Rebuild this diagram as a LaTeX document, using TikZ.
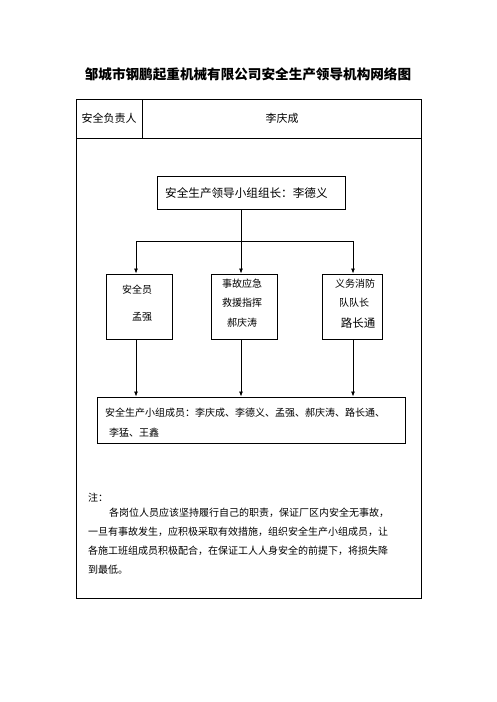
\documentclass[tikz,border=0pt]{standalone}
\usepackage{fontspec}
\setmainfont{Noto Sans CJK SC}
\usetikzlibrary{arrows.meta}
\tikzset{
  boxn/.style={draw=black,line width=0.9pt,rectangle,inner sep=0pt},
  txt/.style={inner sep=0pt,font=\fontsize{10}{12}\selectfont},
  arr/.style={line width=0.8pt,-{Latex[length=5pt,width=4pt]}},
  ln/.style={line width=0.8pt}
}
\begin{document}
\begin{tikzpicture}[x=1pt,y=-1pt]
\useasboundingbox (0,0) rectangle (496,702);
% title
\node[inner sep=0pt,font=\fontsize{13.6}{16}\selectfont\bfseries] (title) at (248,74) {邹城市钢鹏起重机械有限公司安全生产领导机构网络图};
% table frame
\draw[line width=0.9pt] (76,99) rectangle (421,598);
\draw[line width=0.9pt] (76,138) -- (421,138);
\draw[line width=0.9pt] (142,99) -- (142,138);
\node[txt,font=\fontsize{11}{12}\selectfont] (h1) at (109,118) {安全负责人};
\node[txt,font=\fontsize{11}{12}\selectfont] (h2) at (282,118) {李庆成};
% leader
\node[boxn,minimum width=188pt,minimum height=33pt] (lead) at (251,192.5) {};
\node[txt,anchor=west,font=\fontsize{11.6}{13}\selectfont] (leadt) at (165,193) {安全生产领导小组组长：李德义};
% three boxes
\node[boxn,minimum width=66pt,minimum height=65pt] (bl) at (139,306.5) {};
\node[boxn,minimum width=66pt,minimum height=65pt] (bm) at (244,306.5) {};
\node[boxn,minimum width=60pt,minimum height=65pt] (br) at (352,306.5) {};
\node[txt] (bl1) at (137,290) {安全员};
\node[txt] (bl2) at (142,317) {孟强};
\node[txt] (bm1) at (242,284) {事故应急};
\node[txt] (bm2) at (242,303) {救援指挥};
\node[txt] (bm3) at (242,323) {郝庆涛};
\node[txt] (br1) at (355,284) {义务消防};
\node[txt] (br2) at (354,303) {队队长};
\node[txt,font=\fontsize{11.5}{13}\selectfont] (br3) at (358,323) {路长通};
% members
\node[boxn,minimum width=308pt,minimum height=46pt] (mem) at (251,420) {};
\node[txt,anchor=west] (m1) at (105,413) {安全生产小组成员：李庆成、李德义、孟强、郝庆涛、路长通、};
\node[txt,anchor=west] (m2) at (109,433) {李猛、王鑫};
% connectors
\coordinate (hl) at (136,241);
\coordinate (hm) at (241,241);
\coordinate (hr) at (353,241);
\draw[ln] (hl) -- (hr);
\draw[arr] (hm |- lead.south) -- (hm |- bm.north);
\draw[arr] (hl) -- (hl |- bl.north);
\draw[arr] (hr) -- (hr |- br.north);
\draw[arr] (hl |- bl.south) -- (hl |- mem.north);
\draw[arr] (hm |- bm.south) -- (hm |- mem.north);
\draw[arr] (hr |- br.south) -- (hr |- mem.north);
% notes
\node[txt,anchor=west] (n0) at (88,498) {注：};
\node[txt,anchor=west] (n1) at (109,513) {各岗位人员应该坚持履行自己的职责，保证厂区内安全无事故，};
\node[txt,anchor=west] (n2) at (88,532) {一旦有事故发生，应积极采取有效措施，组织安全生产小组成员，让};
\node[txt,anchor=west] (n3) at (88,551) {各施工班组成员积极配合，在保证工人人身安全的前提下，将损失降};
\node[txt,anchor=west] (n4) at (88,570) {到最低。};
\end{tikzpicture}
\end{document}
